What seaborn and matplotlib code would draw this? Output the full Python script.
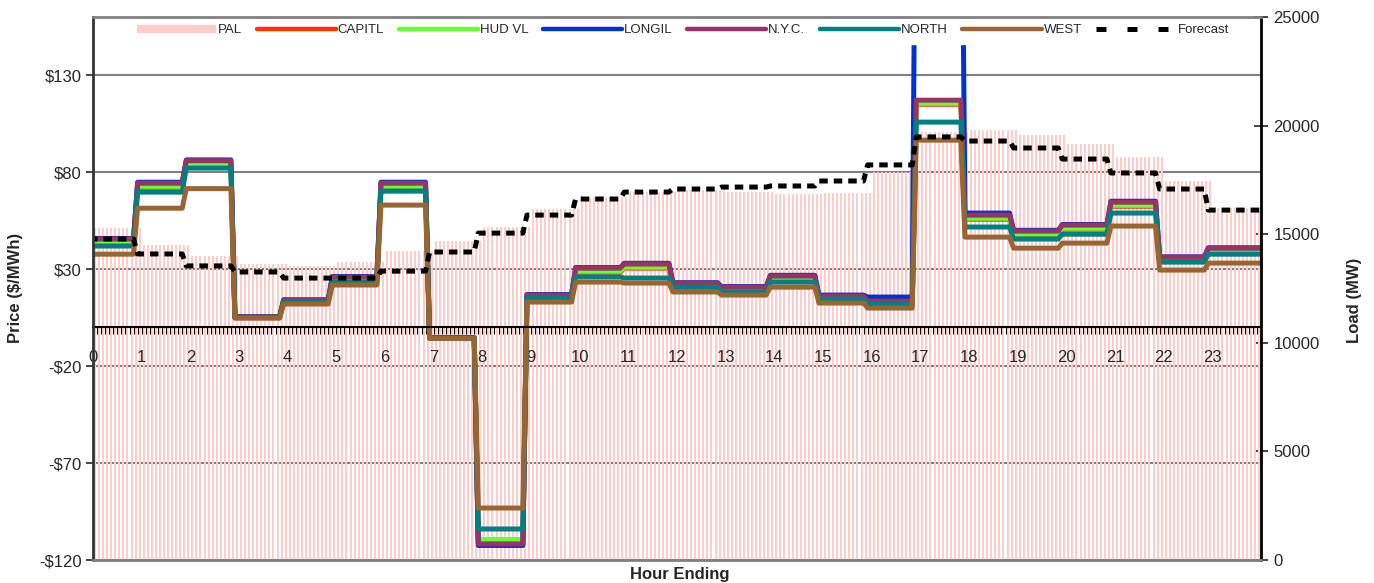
# NYISO real-time zonal prices vs. PAL load, 5-minute resolution
import numpy as np
import pandas as pd
import matplotlib.pyplot as plt
import seaborn as sns
from matplotlib.lines import Line2D
from matplotlib.ticker import FixedLocator, MultipleLocator, FuncFormatter

# hourly values (hour 0..23)
hours = list(range(24))
pal_load = [15300, 14500, 14000, 13630, 13540, 13720, 14230, 14690, 15330, 16160, 16710, 16940,
            17030, 16940, 16850, 16900, 17860, 19700, 19800, 19570, 19150, 18550, 17450, 16200]
forecast_load = [14780, 14090, 13540, 13260, 12980, 12980, 13300, 14180, 15050, 15880, 16620, 16940,
                 17080, 17170, 17220, 17450, 18190, 19480, 19290, 18970, 18460, 17820, 17080, 16110]

capitl = [43.4, 72.2, 83.8, 5.0, 13.0, 23.8, 72.2, -5.6, -109.8, 14.6, 28.4, 30.5,
          20.7, 18.6, 24.3, 14.0, 11.4, 115.0, 55.7, 47.5, 50.6, 62.4, 34.1, 38.7]
hud_vl = [43.9, 72.7, 84.3, 5.1, 13.4, 24.3, 72.7, -5.6, -109.4, 15.0, 28.9, 31.0,
          21.2, 19.1, 24.8, 14.5, 11.9, 115.5, 56.2, 48.0, 51.1, 62.9, 34.6, 39.2]
longil = [45.8, 74.8, 86.3, 5.5, 14.2, 26.2, 74.8, -5.4, -112.5, 16.9, 30.8, 33.0,
          23.0, 21.0, 26.8, 16.6, 15.6, 300.0, 58.9, 50.0, 53.0, 65.0, 36.3, 41.0]
nyc = [45.5, 74.3, 85.9, 5.3, 14.0, 25.9, 74.3, -5.6, -111.7, 16.6, 30.5, 32.6,
       22.8, 20.7, 26.4, 16.1, 13.5, 117.1, 57.8, 49.6, 52.7, 64.5, 36.2, 40.8]
north = [41.9, 69.7, 82.1, 5.0, 13.0, 23.3, 70.2, -5.6, -104.0, 15.0, 26.0, 25.4,
         20.7, 18.2, 23.3, 14.5, 12.0, 105.8, 51.7, 45.5, 48.0, 58.9, 33.6, 37.7]
west = [37.7, 61.4, 71.5, 4.7, 12.0, 21.8, 63.0, -5.8, -93.2, 13.0, 23.3, 22.8,
        18.2, 16.6, 20.7, 12.5, 9.9, 96.5, 46.5, 40.8, 43.4, 52.2, 29.5, 33.1]

zones = ['CAPITL', 'HUD VL', 'LONGIL', 'N.Y.C.', 'NORTH', 'WEST']
zone_colors = ['#FF3300', '#66FF33', '#0033CC', '#993366', '#008080', '#996633']
zone_values = [capitl, hud_vl, longil, nyc, north, west]

sns.set_style('white')
plt.rcParams['font.family'] = ['Liberation Sans', 'DejaVu Sans']

# 5-minute intervals, 12 per hour
steps = 12
bar_x = (np.arange(24 * steps) + 0.5) / steps
line_x = np.arange(24 * steps + 2) / steps - 1 / steps


def to_5min(v):
    r = np.repeat(v, steps)
    return np.concatenate([r, [r[-1], r[-1]]])


df = pd.concat([pd.DataFrame({'hour': line_x, 'price': to_5min(v), 'zone': z})
                for z, v in zip(zones, zone_values)], ignore_index=True)

fig = plt.figure(figsize=(13.74, 5.83), dpi=100)
ax = fig.add_axes([93 / 1374, 1 - 560 / 583, 1168 / 1374, 543 / 583])
ax.set_xlim(0, 24)
ax.set_ylim(-120, 160)
ax.set_yticks([-120, -70, -20, 30, 80, 130])
ax.yaxis.set_major_formatter(FuncFormatter(lambda v, p: f'-${abs(v):.0f}' if v < 0 else f'${v:.0f}'))
ax.yaxis.grid(True, color='#808080', lw=1.5)
ax.tick_params(axis='y', direction='out', length=5, width=1.2, labelsize=12, pad=3, left=True)
ax.tick_params(axis='x', which='both', bottom=False, labelbottom=False)
for s in ax.spines.values():
    s.set_visible(False)

# load bars (PAL)
ax_bar = ax.twinx()
ax_bar.bar(bar_x, np.repeat(pal_load, steps), width=0.5 / steps, color='#FFCCCC', linewidth=0)
ax_bar.set_ylim(0, 25000)
ax_bar.set_yticks(range(0, 25001, 5000))
ax_bar.tick_params(axis='y', direction='inout', length=10, width=1.2, labelsize=12, pad=4, right=True)
for s in ax_bar.spines.values():
    s.set_visible(False)

# zone prices
ax_line = ax.twinx()
ax_line.set_ylim(-120, 160)
sns.lineplot(data=df, x='hour', y='price', hue='zone', hue_order=zones, palette=zone_colors,
             lw=3.6, legend=False, estimator=None, sort=False, ax=ax_line)
ax_line.set_xlim(0, 24)
ax_line.set_xlabel('')
ax_line.set_ylabel('')
ax_line.tick_params(axis='y', right=False, labelright=False, left=False, labelleft=False)
ax_line.xaxis.set_visible(True)
ax_line.xaxis.set_major_locator(FixedLocator(hours))
ax_line.xaxis.set_minor_locator(MultipleLocator(1 / steps))
ax_line.tick_params(axis='x', which='both', direction='out', length=5, width=0.8, color='black',
                    bottom=True, labelbottom=True, labelsize=12, pad=11)
for name, s in ax_line.spines.items():
    s.set_visible(name == 'bottom')
ax_line.spines['bottom'].set_position(('data', 0))
ax_line.spines['bottom'].set_color('black')
ax_line.spines['bottom'].set_linewidth(1.5)

# forecast load
ax_fc = ax.twinx()
ax_fc.set_ylim(0, 25000)
sns.lineplot(x=line_x, y=to_5min(forecast_load), color='black', lw=3.6,
             linestyle=(0, (1.7, 1.2)), estimator=None, sort=False, ax=ax_fc)
ax_fc.set_xlim(0, 24)
ax_fc.tick_params(axis='y', right=False, labelright=False)
ax_fc.spines['left'].set_color('#333333')
ax_fc.spines['right'].set_color('black')
ax_fc.spines['top'].set_color('#808080')
ax_fc.spines['bottom'].set_color('#808080')
for s in ax_fc.spines.values():
    s.set_linewidth(2)

handles = [Line2D([], [], color='#FFCCCC', lw=6, solid_capstyle='butt')]
handles += [Line2D([], [], color=c, lw=3.2, solid_capstyle='round') for c in zone_colors]
handles.append(Line2D([], [], color='black', lw=3.6, linestyle=(0, (2, 4.2))))
leg = ax_fc.legend(handles, ['PAL'] + zones + ['Forecast'], ncol=8, loc='upper center',
                   bbox_to_anchor=(0.505, 1.0), fontsize=9.5, handlelength=6, handletextpad=0.15,
                   columnspacing=1.1, frameon=True, facecolor='white', edgecolor='white',
                   framealpha=1, fancybox=False, borderpad=0.55, borderaxespad=0)
leg.set_zorder(2)  # keep the top frame line above the legend box

fig.text(16 / 1374, 1 - 288 / 583, 'Price ($/MWh)', rotation=90, ha='center', va='center',
         fontsize=12, fontweight='bold')
fig.text(1355 / 1374, 1 - 300 / 583, 'Load (MW)', rotation=90, ha='center', va='center',
         fontsize=12, fontweight='bold')
fig.text(680 / 1374, 1 - 575 / 583, 'Hour Ending', ha='center', va='center',
         fontsize=12, fontweight='bold')

fig.savefig('out.png', dpi=100)
